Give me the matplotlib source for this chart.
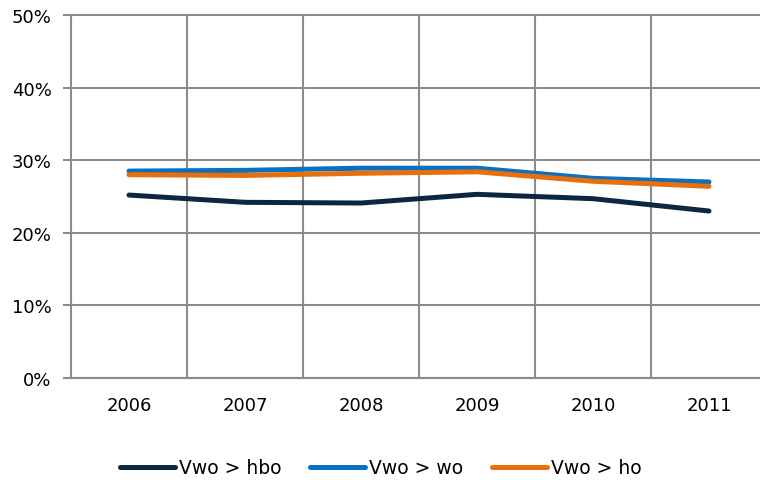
import matplotlib
matplotlib.use('Agg')
import matplotlib.pyplot as plt
from matplotlib.ticker import FixedLocator, PercentFormatter

years = ['2006', '2007', '2008', '2009', '2010', '2011']
hbo = [25.2, 24.2, 24.1, 25.3, 24.7, 23.0]
wo = [28.5, 28.6, 28.9, 28.9, 27.5, 27.0]
ho = [28.0, 27.9, 28.2, 28.4, 27.1, 26.4]
labels = ['Vwo > hbo', 'Vwo > wo', 'Vwo > ho']
colors = ['#0f2642', '#0a70bf', '#e8700c']

plt.rcParams['font.family'] = ['Verdana', 'DejaVu Sans']
fs = 13

fig = plt.figure(figsize=(7.6, 4.81), dpi=100)
ax = fig.add_axes([71/760, 102/481, 696/760, 363/481])

x = range(len(years))
for vals, lab, c in zip([hbo, wo, ho], labels, colors):
    ax.plot(x, vals, color=c, lw=3.6, label=lab, solid_capstyle='round', zorder=3)

ax.set_xlim(-0.5, len(years) - 0.5)
ax.set_ylim(0, 50)
ax.set_yticks(range(0, 51, 10))
ax.yaxis.set_major_formatter(PercentFormatter(decimals=0))
ax.set_xticks(list(x))
ax.set_xticklabels(years)
ax.xaxis.set_minor_locator(FixedLocator([i + 0.5 for i in range(len(years))]))

ax.grid(axis='y', which='major', color='#8c8c8c', lw=1.5)
ax.grid(axis='x', which='minor', color='#8c8c8c', lw=1.5)
for gl in ax.get_ygridlines():
    gl.set_clip_on(False)
for s in ['top', 'right']:
    ax.spines[s].set_visible(False)
for s in ['left', 'bottom']:
    ax.spines[s].set_color('#8c8c8c')
    ax.spines[s].set_linewidth(1.5)
ax.tick_params(axis='y', length=6, width=1.5, color='#8c8c8c', labelsize=fs, pad=8)
ax.tick_params(axis='x', which='both', length=0, labelsize=fs, pad=13)

fig.legend(loc='center', bbox_to_anchor=(381/760, 1 - 469/481), ncol=3, frameon=False,
           fontsize=13.5, handlelength=2.93, handletextpad=0.21, columnspacing=1.55)

fig.savefig('out.png', dpi=100)
